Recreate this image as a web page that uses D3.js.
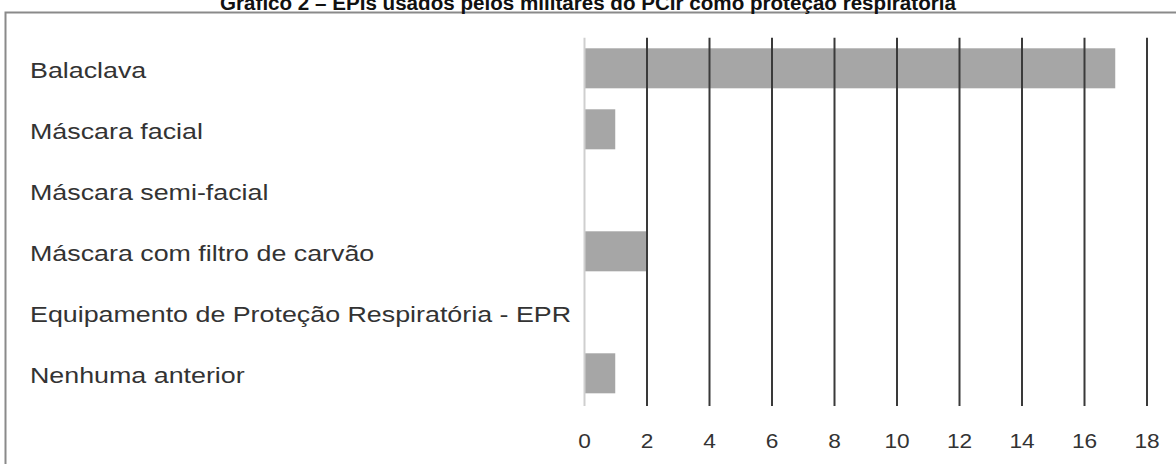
<!DOCTYPE html>
<html><head><meta charset="utf-8">
<script src="https://cdn.jsdelivr.net/npm/d3@7"></script>
<style>body{margin:0;background:#fff}svg{display:block}</style>
</head><body><svg id="c" width="1176" height="464"></svg>
<script>
const title = "Gráfico 2 – EPIs usados pelos militares do PCIr como proteção respiratória";
const categories = ["Balaclava","Máscara facial","Máscara semi-facial","Máscara com filtro de carvão","Equipamento de Proteção Respiratória - EPR","Nenhuma anterior"];
const values = [17,1,0,2,0,1];
const xTicks = [0,2,4,6,8,10,12,14,16,18];

const svg = d3.select("#c");
const W = 1176, H = 464;
const plotTop = 37.8, plotBottom = 403.8, axisY = 406;
const FONT = "Liberation Sans, Arial, sans-serif";

const x = d3.scaleLinear().domain([0,18]).range([584,1146.5]);
const y = d3.scaleBand().domain(categories).range([plotTop, plotBottom]).paddingInner(0.344).paddingOuter(0.172);

// frame
svg.append("rect").attr("x",5.5).attr("y",12.5).attr("width",W+20).attr("height",H+20)
  .attr("fill","none").attr("stroke","#8a8a8a").attr("stroke-width",2);

// title
svg.append("text").attr("x",588).attr("y",9.5).attr("text-anchor","middle")
  .attr("font-family",FONT).attr("font-weight","bold")
  .attr("font-size",20).attr("fill","#111")
  .attr("transform","translate(588,0) scale(1.03,1) translate(-588,0)")
  .text(title);

// bars
svg.append("g").selectAll("rect").data(values).join("rect")
  .attr("x", x(0)).attr("y",(d,i)=>y(categories[i]))
  .attr("width", d=>x(d)-x(0)).attr("height", y.bandwidth())
  .attr("fill","#a6a6a6");

// axis + gridlines
const ax = svg.append("g").attr("transform",`translate(0,${axisY})`)
  .call(d3.axisBottom(x).tickValues(xTicks).tickSizeInner(-(axisY-plotTop)).tickSizeOuter(0).tickPadding(27));
ax.select(".domain").remove();
ax.selectAll(".tick line").attr("stroke",d=>d===0?"#cfcfcf":"#3a3a3a").attr("stroke-width",2);
ax.selectAll(".tick text").attr("font-family",FONT).attr("font-size",21).attr("fill","#333")
  .attr("transform","scale(1.08,1)");

// category labels
const lx = 30;
svg.append("g").attr("transform",`translate(${lx},0) scale(1.22,1)`)
  .selectAll("text").data(categories).join("text")
  .attr("x",0).attr("y",d=>y(d)+y.bandwidth()/2+4)
  .attr("dominant-baseline","middle")
  .attr("font-family",FONT).attr("font-size",22).attr("fill","#333")
  .text(d=>d);
</script></body></html>
